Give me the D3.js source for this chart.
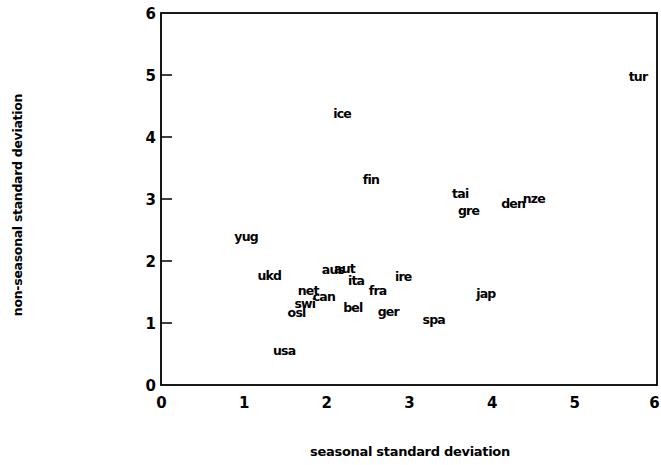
<!DOCTYPE html>
<html>
<head>
<meta charset="utf-8">
<script src="https://cdn.jsdelivr.net/npm/d3@7"></script>
<style>
  body { margin: 0; background: #fff; }
  text { font-family: "DejaVu Sans", sans-serif; font-weight: bold; fill: #000; }
</style>
</head>
<body>
<div id="chart"></div>
<script>
// country codes and their standard deviations
var countries = ["tur", "ice", "fin", "tai", "gre", "den", "nze", "yug", "ukd", "aus", "aut",
                 "ita", "ire", "fra", "jap", "net", "can", "swi", "osl", "bel", "ger", "spa", "usa"];
var seasonal =    [5.77, 2.19, 2.54, 3.62, 3.72, 4.26, 4.51, 1.03, 1.31, 2.08, 2.22,
                   2.36, 2.93, 2.62, 3.93, 1.78, 1.97, 1.74, 1.64, 2.32, 2.75, 3.30, 1.49];
var nonSeasonal = [4.97, 4.37, 3.31, 3.08, 2.82, 2.92, 3.00, 2.40, 1.77, 1.86, 1.88,
                   1.69, 1.74, 1.53, 1.48, 1.53, 1.42, 1.32, 1.16, 1.24, 1.19, 1.06, 0.55];
var xTicks = [0, 1, 2, 3, 4, 5, 6];
var yTicks = [0, 1, 2, 3, 4, 5, 6];

var svgWidth = 661;
var svgHeight = 465;
var Margin = { top: 13, right: 4, bottom: 80, left: 161 };
var width = svgWidth - Margin.left - Margin.right;
var height = svgHeight - Margin.top - Margin.bottom;

var svg = d3.select("#chart")
  .append("svg")
  .attr("width", svgWidth)
  .attr("height", svgHeight);

var chartGroup = svg.append("g")
  .attr("transform", `translate(${Margin.left}, ${Margin.top})`);

var xScale = d3.scaleLinear().domain([0, 6]).range([0, width]);
var yScale = d3.scaleLinear().domain([0, 6]).range([height, 0]);

// frame
chartGroup.append("rect")
  .attr("x", 0).attr("y", 0)
  .attr("width", width).attr("height", height)
  .attr("fill", "none")
  .attr("stroke", "#000")
  .attr("stroke-width", 1.8);

// left axis: inward ticks, labels outside
var leftAxis = d3.axisLeft(yScale)
  .tickValues(yTicks)
  .tickSize(0)
  .tickPadding(5)
  .tickFormat(d3.format("d"));

var yAxis = chartGroup.append("g").call(leftAxis);
yAxis.select(".domain").remove();
yAxis.selectAll("text").attr("font-size", "15px").attr("dy", "0.35em");

chartGroup.append("g")
  .selectAll("line")
  .data(yTicks.filter(d => d > 0 && d < 6))
  .enter()
  .append("line")
  .attr("x1", 0).attr("x2", 11)
  .attr("y1", d => yScale(d)).attr("y2", d => yScale(d))
  .attr("stroke", "#000")
  .attr("stroke-width", 1.5);

// bottom axis labels
var bottomAxis = d3.axisBottom(xScale)
  .tickValues(xTicks)
  .tickSize(0)
  .tickPadding(12)
  .tickFormat(d3.format("d"));

var xAxis = chartGroup.append("g")
  .attr("transform", `translate(0, ${height})`)
  .call(bottomAxis);
xAxis.select(".domain").remove();
xAxis.selectAll("text")
  .attr("font-size", "15px")
  .attr("dx", d => d === 6 ? "-3px" : 0);

// axis titles
svg.append("text")
  .attr("x", 410)
  .attr("y", 456)
  .attr("font-size", "13px")
  .attr("text-anchor", "middle")
  .attr("letter-spacing", "-0.3px")
  .text("seasonal standard deviation");

svg.append("text")
  .attr("transform", "rotate(-90)")
  .attr("x", -205)
  .attr("y", 22)
  .attr("font-size", "12.5px")
  .attr("text-anchor", "middle")
  .attr("letter-spacing", "-0.3px")
  .text("non-seasonal standard deviation");

// country labels
chartGroup.selectAll(".lab")
  .data(countries)
  .enter()
  .append("text")
  .attr("class", "lab")
  .attr("x", (d, i) => xScale(seasonal[i]))
  .attr("y", (d, i) => yScale(nonSeasonal[i]))
  .attr("dy", "0.35em")
  .attr("text-anchor", "middle")
  .attr("font-size", "12.5px")
  .attr("letter-spacing", "-0.8px")
  .text(d => d);
</script>
</body>
</html>
